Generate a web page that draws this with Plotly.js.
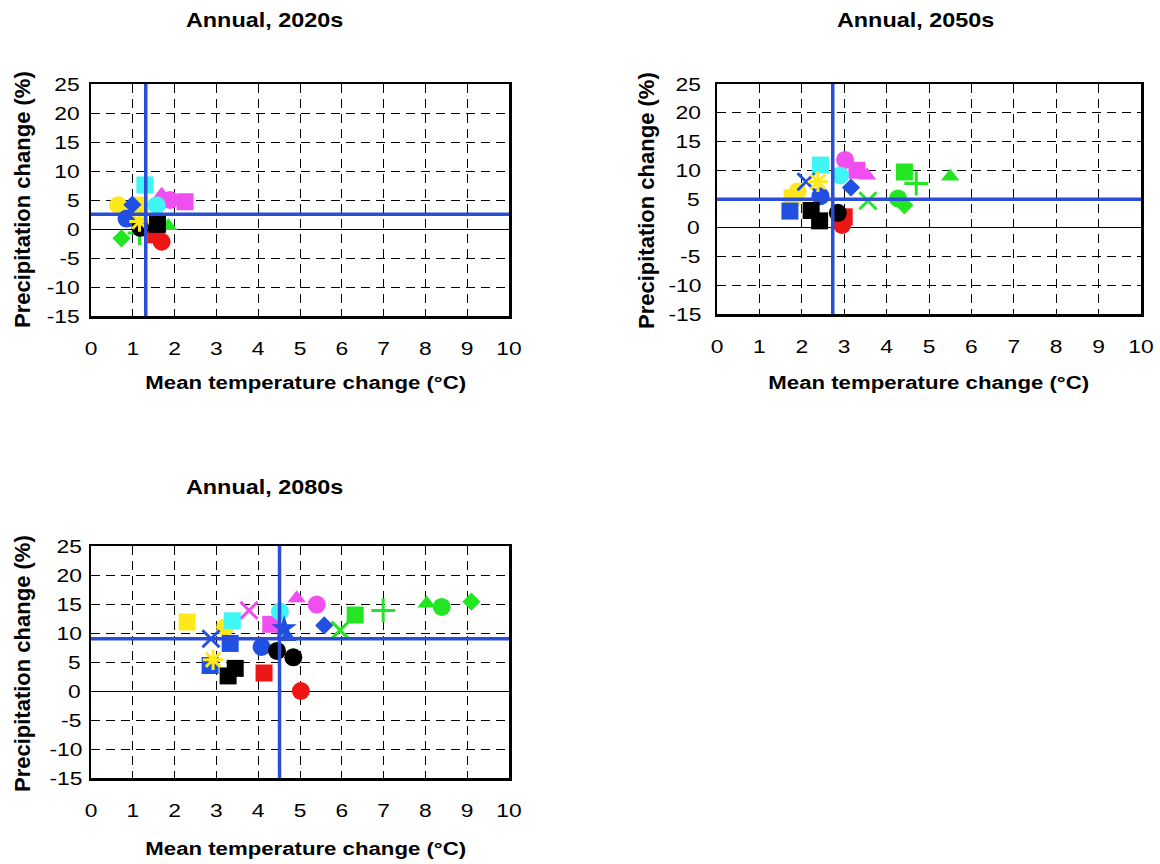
<!DOCTYPE html>
<html><head><meta charset="utf-8">
<script src="https://cdn.plot.ly/plotly-3.0.1.min.js"></script>
<style>html,body{margin:0;padding:0;background:#fff}#chart{width:1160px;height:864px}</style>
</head><body><div id="chart"></div>
<script>
// ---------- DATA ----------
const panelTitles = ['Annual, 2020s', 'Annual, 2050s', 'Annual, 2080s'];
const xAxisTitle = 'Mean temperature change (°C)';
const yAxisTitle = 'Precipitation change (%)';
const xTickValues = [0, 1, 2, 3, 4, 5, 6, 7, 8, 9, 10];
const xTickLabels = ['0', '1', '2', '3', '4', '5', '6', '7', '8', '9', '10'];
const yTickValues = [-15, -10, -5, 0, 5, 10, 15, 20, 25];
const yTickLabels = ['-15', '-10', '-5', '0', '5', '10', '15', '20', '25'];

// 2020s
const series2020 = ['greenDiamond', 'greenTriangle', 'greenCross', 'magentaTriangle', 'magentaCircle', 'magentaSquare',
  'yellowCircle', 'yellowSquare', 'cyanSquare', 'cyanCircle', 'blueDiamond', 'blueCircle', 'redSquare', 'redCircle',
  'blackCircle', 'yellowAsterisk', 'blackSquare'];
const temp2020 = [0.73, 1.85, 1.16, 1.69, 1.89, 2.25, 0.65, 1.17, 1.29, 1.57, 0.99, 0.85, 1.55, 1.69, 1.18, 1.16, 1.59];
const precip2020 = [-1.6, 0.5, -0.7, 5.9, 5.0, 4.7, 4.1, 4.1, 7.6, 4.1, 4.2, 1.8, -1.0, -2.2, 0.2, 1.3, 0.8];

// 2050s
const series2050 = ['greenX', 'greenSquare', 'greenCross', 'greenTriangle', 'greenCircle', 'greenDiamond',
  'magentaCircle', 'magentaSquare', 'magentaTriangle', 'yellowCircle', 'yellowSquare', 'cyanSquare', 'cyanCircle',
  'blueSquare', 'blueCircle', 'blueDiamond', 'blueX', 'yellowAsterisk', 'redSquare', 'redCircle',
  'blackSquare', 'blackSquare', 'blackCircle'];
const temp2050 = [3.56, 4.42, 4.70, 5.50, 4.27, 4.42, 3.02, 3.30, 3.54, 1.90, 1.77, 2.44, 2.90,
  1.72, 2.44, 3.16, 2.10, 2.38, 3.00, 2.95, 2.22, 2.42, 2.85];
const precip2050 = [4.7, 9.7, 7.7, 8.9, 5.1, 3.9, 11.8, 10.0, 9.1, 6.3, 5.2, 10.9, 9.1,
  2.9, 5.5, 7.0, 8.0, 8.0, 1.9, 0.5, 3.0, 1.2, 2.6];

// 2080s
const series2080 = ['greenX', 'greenSquare', 'greenCross', 'greenTriangle', 'greenCircle', 'greenDiamond',
  'magentaX', 'magentaSquare', 'magentaTriangle', 'magentaCircle', 'yellowSquare', 'yellowCircle', 'cyanSquare',
  'cyanCircle', 'blueSquare', 'blueSquare', 'blueX', 'blueCircle', 'blueAsterisk', 'blueTriangle', 'blueDiamond',
  'yellowAsterisk', 'redSquare', 'redCircle', 'blackCircle', 'blackCircle', 'blackSquare', 'blackSquare'];
const temp2080 = [5.96, 6.32, 6.99, 8.03, 8.39, 9.10, 3.78, 4.30, 4.92, 5.40, 2.30, 3.21, 3.38,
  4.52, 2.85, 3.33, 2.87, 4.08, 4.62, 4.70, 5.58, 2.92, 4.14, 5.02, 4.45, 4.84, 3.28, 3.45];
const precip2080 = [10.5, 13.1, 13.9, 15.1, 14.5, 15.4, 13.9, 11.5, 16.0, 14.9, 11.9, 11.0, 12.1,
  13.7, 4.4, 8.2, 9.0, 7.6, 10.8, 9.3, 11.3, 5.4, 3.1, 0.0, 6.9, 5.8, 2.6, 3.9];

// Reference lines (median change) per panel
const medianTemp = [1.31, 2.73, 4.51];
const medianPrecip = [2.55, 4.95, 9.0];

// ---------- STYLE ----------
const C = {yellow: '#ffe81a', blue: '#1f4fe3', cyan: '#3ff5f5', magenta: '#f04ef0', green: '#22e622', red: '#ee1515', black: '#000000'};
const STYLE = {
  yellowCircle: [C.yellow, 'circle'], yellowSquare: [C.yellow, 'square'], yellowAsterisk: [C.yellow, 'asterisk-open'],
  blueCircle: [C.blue, 'circle'], blueSquare: [C.blue, 'square'], blueDiamond: [C.blue, 'diamond'], blueX: [C.blue, 'x-thin-open'],
  blueTriangle: [C.blue, 'triangle-up'], blueAsterisk: [C.blue, 'star'],
  cyanSquare: [C.cyan, 'square'], cyanCircle: [C.cyan, 'circle'],
  magentaCircle: [C.magenta, 'circle'], magentaSquare: [C.magenta, 'square'], magentaTriangle: [C.magenta, 'triangle-up'], magentaX: [C.magenta, 'x-thin-open'],
  greenCircle: [C.green, 'circle'], greenSquare: [C.green, 'square'], greenDiamond: [C.green, 'diamond'], greenTriangle: [C.green, 'triangle-up'],
  greenX: [C.green, 'x-thin-open'], greenCross: [C.green, 'cross-thin-open'],
  redCircle: [C.red, 'circle'], redSquare: [C.red, 'square'],
  blackCircle: [C.black, 'circle'], blackSquare: [C.black, 'square']
};
const SIZE = {'circle': 18, 'square': 17, 'diamond': 14, 'triangle-up': 16, 'x-thin-open': 17, 'cross-thin-open': 17, 'asterisk-open': 17, 'star': 19};

const panels = [
  {s: series2020, x: temp2020, y: precip2020, xa: 'x', ya: 'y'},
  {s: series2050, x: temp2050, y: precip2050, xa: 'x2', ya: 'y2'},
  {s: series2080, x: temp2080, y: precip2080, xa: 'x3', ya: 'y3'}
];

const traces = [];
panels.forEach(p => {
  p.s.forEach((name, i) => {
    const [col, sym] = STYLE[name];
    const open = sym.endsWith('-open');
    traces.push({
      type: 'scatter', mode: 'markers', x: [p.x[i]], y: [p.y[i]], xaxis: p.xa, yaxis: p.ya,
      name: name, showlegend: false, hoverinfo: 'skip',
      marker: {symbol: sym, size: SIZE[sym], color: col, line: {color: col, width: open ? 3 : 0}}
    });
  });
});

const FONT = 'Liberation Sans, Arial, sans-serif';
function xa(domain, anchor) {
  return {domain, anchor, range: [0, 10], tickmode: 'array', tickvals: xTickValues, ticktext: xTickLabels,
    showgrid: true, gridcolor: '#000', griddash: '9px,6px', gridwidth: 1, zeroline: false,
    showline: true, mirror: true, linecolor: '#000', linewidth: 2.5, ticks: '', ticklabelstandoff: 14,
    tickfont: {family: FONT, size: 19, color: '#000'}, fixedrange: true};
}
function ya(domain, anchor, standoff) {
  return {domain, anchor, range: [-15, 25], tickmode: 'array', tickvals: yTickValues, ticktext: yTickLabels,
    showgrid: true, gridcolor: '#000', griddash: '9px,6px', gridwidth: 1,
    zeroline: true, zerolinecolor: '#000', zerolinewidth: 1,
    showline: true, mirror: true, linecolor: '#000', linewidth: 2.5, ticks: '', ticklabelstandoff: standoff,
    tickfont: {family: FONT, size: 19, color: '#000'}, fixedrange: true};
}
const W = 1160, H = 864;
const dx1 = [91 / W, 509 / W], dx2 = [717 / W, 1141 / W];
const dy1 = [1 - 316 / H, 1 - 84 / H], dy2 = [1 - 314 / H, 1 - 84 / H], dy3 = [1 - 778 / H, 1 - 546 / H];

const BLUE = '#2a4fd6';
const shapes = [];
['x', 'x2', 'x3'].forEach((xr, k) => {
  const yr = ['y', 'y2', 'y3'][k];
  shapes.push({type: 'line', xref: xr, yref: yr + ' domain', x0: medianTemp[k], x1: medianTemp[k], y0: 0, y1: 1, line: {color: BLUE, width: 3.5}});
  shapes.push({type: 'line', xref: xr + ' domain', yref: yr, x0: 0, x1: 1, y0: medianPrecip[k], y1: medianPrecip[k], line: {color: BLUE, width: 3.5}});
});

function ann(text, xpx, ypx, size, angle) {
  return {text: '<b>' + text + '</b>', xref: 'paper', yref: 'paper', x: xpx / W, y: 1 - ypx / H,
    xanchor: 'center', yanchor: 'middle', showarrow: false, textangle: angle || 0,
    font: {family: FONT, size: size, color: '#000'}};
}
const annotations = [
  ann(panelTitles[0], 264, 20, 19.5), ann(panelTitles[1], 915, 20, 19.5), ann(panelTitles[2], 264, 487, 19.5),
  ann(xAxisTitle, 305, 383, 18.5), ann(xAxisTitle, 928, 383, 18.5), ann(xAxisTitle, 305, 848, 18.5),
  ann(yAxisTitle, 22, 200, 22, -90), ann(yAxisTitle, 646, 200, 22, -90), ann(yAxisTitle, 22, 664, 22, -90)
];

const layout = {
  width: W, height: H, margin: {l: 0, r: 0, t: 0, b: 0},
  paper_bgcolor: '#fff', plot_bgcolor: '#fff', showlegend: false,
  xaxis: xa(dx1, 'y'), yaxis: ya(dy1, 'x', 5),
  xaxis2: xa(dx2, 'y2'), yaxis2: ya(dy2, 'x2', 12),
  xaxis3: xa(dx1, 'y3'), yaxis3: ya(dy3, 'x3', 5),
  shapes, annotations
};
Plotly.newPlot('chart', traces, layout, {staticPlot: true}).then(gd => {
  // The original chart's lettering is horizontally wide; widen text glyphs in screen x.
  const S = 1.2;
  gd.querySelectorAll('text').forEach(t => {
    if (!t.textContent.trim()) return;
    const ctm = t.parentNode.getScreenCTM();
    if (!ctm || Math.abs(ctm.b) > 1e-6 || Math.abs(ctm.c) > 1e-6) return;
    const r = t.getBoundingClientRect();
    const sx = t.closest('.ytick') ? r.right : (r.left + r.right) / 2;
    const px = (sx - ctm.e) / ctm.a;
    const prev = t.getAttribute('transform') || '';
    t.setAttribute('transform', 'translate(' + px + ',0) scale(' + S + ',1) translate(' + (-px) + ',0) ' + prev);
  });
});
</script></body></html>
